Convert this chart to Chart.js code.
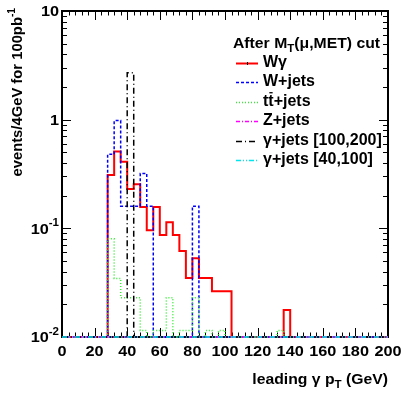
<!DOCTYPE html>
<html>
<head>
<meta charset="utf-8">
<script src="https://cdn.jsdelivr.net/npm/chart.js@4"></script>
<style>
    body { margin: 0; background: #ffffff; }
    #wrap { width: 403px; height: 393px; }
</style>
</head>
<body>
<div id="wrap"><canvas id="ptChart" width="403" height="393"></canvas></div>
<script>
// 4 GeV bins from 0 to 200 GeV, events per bin for 100 pb^-1
const binWidth = 4;
const binLows = Array.from({ length: 50 }, (_, i) => i * binWidth);

const wgammaData = [
    0, 0, 0, 0, 0, 0, 0, 0.31, 0.51, 0.41,
    0.23, 0.255, 0.157, 0.096, 0.157, 0.087, 0.114, 0.087, 0.062, 0.035,
    0.053, 0.035, 0.035, 0.0264, 0.0264, 0.0264, 0, 0, 0, 0,
    0, 0, 0, 0, 0.0177, 0, 0, 0, 0, 0,
    0, 0, 0, 0, 0, 0, 0, 0, 0, 0,
];
const wjetsData = [
    0, 0, 0, 0, 0, 0, 0, 0.48, 0.98, 0.16,
    0.16, 0.16, 0.32, 0.16, 0, 0, 0, 0, 0, 0,
    0.16, 0, 0, 0, 0, 0, 0, 0, 0, 0,
    0, 0, 0, 0, 0, 0, 0, 0, 0, 0,
    0, 0, 0, 0, 0, 0, 0, 0, 0, 0,
];
const ttjetsData = [
    0, 0, 0, 0, 0, 0, 0, 0.080, 0.0346, 0.023,
    0.023, 0.023, 0.0115, 0, 0.0115, 0.0115, 0.023, 0, 0.0115, 0.0115,
    0.023, 0, 0.0115, 0, 0.0115, 0, 0, 0, 0, 0,
    0, 0, 0, 0.0115, 0, 0, 0, 0, 0, 0,
    0, 0, 0, 0, 0, 0, 0, 0, 0, 0,
];
const zjetsData = new Array(50).fill(0);
const gjets100Data = [
    0, 0, 0, 0, 0, 0, 0, 0, 0, 0,
    2.7, 0, 0, 0, 0, 0, 0, 0, 0, 0,
    0, 0, 0, 0, 0, 0, 0, 0, 0, 0,
    0, 0, 0, 0, 0, 0, 0, 0, 0, 0,
    0, 0, 0, 0, 0, 0, 0, 0, 0, 0,
];
const gjets40Data = new Array(50).fill(0);

const xTicks = [0, 20, 40, 60, 80, 100, 120, 140, 160, 180, 200];
const yDecades = [0.01, 0.1, 1, 10];
const yMin = 0.01;
const yMax = 10;

const fontFamily = '"Liberation Sans", Arial, sans-serif';

const series = [
    { label: [['W', ''], ['γ', '']], data: wgammaData, color: '#ff0000', width: 2, dash: [] },
    { label: [['W+jets', '']], data: wjetsData, color: '#0000ff', width: 1.5, dash: [3, 2] },
    { label: [['tt', 'bar'], ['+jets', '']], data: ttjetsData, color: '#33ee33', width: 1.5, dash: [1, 2] },
    { label: [['Z+jets', '']], data: zjetsData, color: '#ff00ff', width: 1.5, dash: [4, 2, 1, 2] },
    { label: [['γ+jets [100,200]', '']], data: gjets100Data, color: '#000000', width: 1.5, dash: [6, 3, 1, 3] },
    { label: [['γ+jets [40,100]', '']], data: gjets40Data, color: '#00e5ee', width: 1.5, dash: [5, 2, 1, 2, 1, 2] },
];

// histogram as step points, empty bins sit on the frame bottom like ROOT does
const toSteps = (values) => {
    const pts = values.map((v, i) => ({ x: binLows[i], y: v > 0 ? v : yMin }));
    pts.push({ x: binLows[binLows.length - 1] + binWidth, y: pts[pts.length - 1].y });
    return pts;
};

// text with sub/superscripts, optionally stretched sideways
const drawRich = (ctx, parts, x, y, align, size, stretch = 1) => {
    const big = `bold ${size}px ${fontFamily}`;
    const small = `bold ${Math.round(size * 0.7)}px ${fontFamily}`;
    const widths = parts.map(([t, kind]) => {
        ctx.font = (kind === 'sup' || kind === 'sub') ? small : big;
        return ctx.measureText(t).width;
    });
    const total = widths.reduce((a, b) => a + b, 0) * stretch;
    const startX = align === 'right' ? x - total : align === 'center' ? x - total / 2 : x;
    ctx.save();
    ctx.translate(startX, y);
    ctx.scale(stretch, 1);
    ctx.textAlign = 'left';
    ctx.textBaseline = 'middle';
    let cx = 0;
    parts.forEach(([t, kind], i) => {
        let dy = 0;
        ctx.font = big;
        if (kind === 'sup') { ctx.font = small; dy = -size * 0.38; }
        if (kind === 'sub') { ctx.font = small; dy = size * 0.32; }
        ctx.fillText(t, cx, dy);
        if (kind === 'bar') {
            // overbar on the second letter (t-bar)
            const w1 = ctx.measureText(t[0]).width;
            ctx.fillRect(cx + w1 + 1, -size * 0.62, widths[i] - w1 - 2, 1.3);
        }
        cx += widths[i];
    });
    ctx.restore();
    return total;
};

const rootFrame = {
    id: 'rootFrame',
    beforeDatasetsDraw(chart) {
        const { ctx, chartArea: a, scales } = chart;
        const xs = scales.x;
        const ys = scales.y;
        ctx.save();
        ctx.strokeStyle = '#000000';
        ctx.lineWidth = 1;
        ctx.beginPath();
        for (let v = 0; v <= 200; v += 4) {
            const px = Math.round(xs.getPixelForValue(v)) + 0.5;
            const len = v % 20 === 0 ? 9 : 4.5;
            ctx.moveTo(px, a.bottom); ctx.lineTo(px, a.bottom - len);
            ctx.moveTo(px, a.top); ctx.lineTo(px, a.top + len);
        }
        yDecades.forEach((d) => {
            for (let m = 1; m <= 9; m++) {
                const v = d * m;
                if (v > yMax + 1e-9 || (m > 1 && d === yMax)) continue;
                const py = Math.round(ys.getPixelForValue(v)) + 0.5;
                const len = m === 1 ? 9 : 5;
                ctx.moveTo(a.left, py); ctx.lineTo(a.left + len, py);
                ctx.moveTo(a.right, py); ctx.lineTo(a.right - len, py);
            }
        });
        ctx.stroke();
        ctx.lineWidth = 2;
        ctx.strokeRect(a.left, a.top, a.right - a.left, a.bottom - a.top);
        ctx.restore();
    },
    afterDraw(chart) {
        const { ctx, chartArea: a, scales } = chart;
        const xs = scales.x;
        const ys = scales.y;
        ctx.save();
        ctx.fillStyle = '#000000';

        xTicks.forEach((v) => {
            drawRich(ctx, [[String(v), '']], xs.getPixelForValue(v), a.bottom + 15, 'center', 15.5, 1.05);
        });
        const yLabels = { 10: [['10', '']], 1: [['1', '']], 0.1: [['10', ''], ['-1', 'sup']], 0.01: [['10', ''], ['-2', 'sup']] };
        yDecades.forEach((d) => {
            drawRich(ctx, yLabels[d], a.left - 3, ys.getPixelForValue(d) + 1, 'right', 15.5, 1.05);
        });

        drawRich(ctx, [['leading ', ''], ['γ', ''], [' p', ''], ['T', 'sub'], [' (GeV)', '']], a.right, 380, 'right', 15, 1.05);

        ctx.save();
        ctx.translate(18, 8);
        ctx.rotate(-Math.PI / 2);
        drawRich(ctx, [['events/4GeV for 100pb', ''], ['-1', 'sup']], 0, 0, 'right', 14.5, 1.02);
        ctx.restore();

        // legend
        drawRich(ctx, [['After M', ''], ['T', 'sub'], ['(μ,MET) cut', '']], 233, 44, 'left', 15, 1.05);
        const rows = [63, 82, 102, 121, 141, 160];
        series.forEach((s, i) => {
            const y = rows[i];
            ctx.save();
            ctx.strokeStyle = s.color;
            ctx.lineWidth = s.width;
            ctx.setLineDash(s.dash);
            ctx.beginPath();
            ctx.moveTo(236, y + 0.5);
            ctx.lineTo(258, y + 0.5);
            ctx.stroke();
            if (i === 0) {
                ctx.setLineDash([]);
                ctx.strokeStyle = '#000000';
                ctx.lineWidth = 1;
                ctx.beginPath();
                ctx.moveTo(247.5, y - 1);
                ctx.lineTo(247.5, y + 2);
                ctx.stroke();
            }
            ctx.restore();
            ctx.fillStyle = '#000000';
            drawRich(ctx, s.label, 263, y, 'left', 16, 1.0);
        });
        ctx.restore();
    },
};

new Chart(document.getElementById('ptChart'), {
    type: 'line',
    data: {
        datasets: series.map((s) => ({
            label: s.label.map((p) => p[0]).join(''),
            data: toSteps(s.data),
            borderColor: s.color,
            borderWidth: s.width,
            borderDash: s.dash,
            stepped: 'before',
            pointRadius: 0,
            fill: false,
            clip: 3,
        })).reverse(),
    },
    options: {
        responsive: false,
        animation: false,
        layout: {
            padding: { left: 62, right: 15, top: 11, bottom: 56 },
        },
        plugins: {
            legend: { display: false },
            tooltip: { enabled: false },
        },
        scales: {
            x: { type: 'linear', min: 0, max: 200, display: false },
            y: { type: 'logarithmic', min: yMin, max: yMax, display: false },
        },
    },
    plugins: [rootFrame],
});
</script>
</body>
</html>
